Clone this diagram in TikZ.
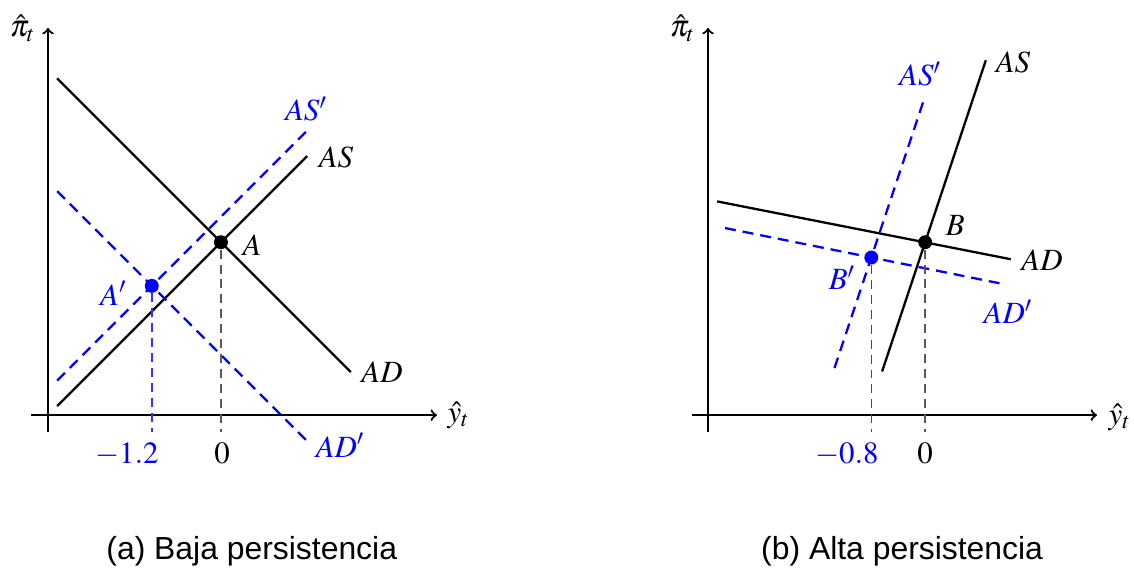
\documentclass[tikz,border=0pt]{standalone}
\usepackage{mathptmx}
\usepackage[no-math]{fontspec}
\newfontfamily\capfont{Liberation Sans}
\usepackage{xcolor}
\usepackage{tikz}

\begin{document}
\begin{tikzpicture}[
    axis/.style={->,line width=1.1pt},
    curve/.style={line width=1.15pt},
    shifted/.style={line width=1.15pt,blue,dash pattern=on 5.5pt off 3.5pt},
    guide/.style={line width=0.8pt,dash pattern=on 4.5pt off 3pt},
    dot/.style={circle,fill,inner sep=0pt,minimum size=7pt},
    lbl/.style={inner sep=1pt,font=\fontsize{15.5}{18}\selectfont},
    captext/.style={inner sep=0pt,font=\capfont\fontsize{16}{19}\selectfont}
  ]
  \useasboundingbox (0,0) rectangle (20,10.02);

  % (a) baja persistencia
  \begin{scope}[shift={(0.847,2.698)}]
    \draw[axis] (-0.3,0) -- (6.86,0);
    \draw[axis] (0,-0.3) -- (0,6.83);
    \node[lbl] (ya)  at (7.24,0)     {$\hat{y}_t$};
    \node[lbl] (pia) at (-0.45,6.83) {$\hat{\pi}_t$};

    \coordinate (adA0) at (0.16,5.94);
    \coordinate (adA1) at (5.34,0.76);
    \coordinate (asA0) at (0.16,0.16);
    \coordinate (asA1) at (4.57,4.57);
    \coordinate (asA2) at (0.16,0.61);
    \coordinate (asA3) at (4.57,5.02);
    \coordinate (adA2) at (0.16,3.95);
    \coordinate (adA3) at (4.59,-0.48);
    \coordinate (fA)  at (3.05,-0.3);
    \coordinate (fA1) at (1.83,-0.3);

    \draw[curve] (adA0) -- (adA1);
    \draw[curve] (asA0) -- (asA1);
    \draw[shifted] (asA2) -- (asA3);
    \draw[shifted] (adA2) -- (adA3);

    \node[dot] (A)  at (3.05,3.05) {};
    \node[dot,blue] (A1) at (1.83,2.28) {};
    \draw[guide,black!65] (A) -- (fA);
    \draw[guide,blue!80] (A1) -- (fA1);

    \node[lbl] (lA)  at (3.60,3.00) {$A$};
    \node[lbl,blue] (lA1) at (1.15,2.15) {$A'$};
    \node[lbl] (lasA) at (5.08,4.55) {$AS$};
    \node[lbl,blue] (lasA1) at (4.55,5.40) {$AS'$};
    \node[lbl] (ladA) at (5.89,0.76) {$AD$};
    \node[lbl,blue] (ladA1) at (5.15,-0.53) {$AD'$};
    \node[lbl,anchor=base] (tA)  at (3.07,-0.85) {$0$};
    \node[lbl,anchor=base,blue] (tA1) at (1.39,-0.85) {$-1.2$};
  \end{scope}

  % (b) alta persistencia
  \begin{scope}[shift={(12.487,2.698)}]
    \draw[axis] (-0.28,0) -- (6.86,0);
    \draw[axis] (0,-0.3) -- (0,6.83);
    \node[lbl] (yb)  at (7.26,-0.03) {$\hat{y}_t$};
    \node[lbl] (pib) at (-0.45,6.83) {$\hat{\pi}_t$};

    \coordinate (adB0) at (0.16,3.77);
    \coordinate (adB1) at (5.34,2.75);
    \coordinate (asB0) at (3.07,0.77);
    \coordinate (asB1) at (4.90,6.26);
    \coordinate (asB2) at (2.23,0.83);
    \coordinate (asB3) at (3.81,5.57);
    \coordinate (adB2) at (0.30,3.30);
    \coordinate (adB3) at (5.22,2.31);
    \coordinate (fB)  at (3.83,-0.3);
    \coordinate (fB1) at (2.88,-0.3);

    \draw[curve] (adB0) -- (adB1);
    \draw[curve] (asB0) -- (asB1);
    \draw[shifted] (asB2) -- (asB3);
    \draw[shifted] (adB2) -- (adB3);

    \node[dot] (B)  at (3.83,3.05) {};
    \node[dot,blue] (B1) at (2.88,2.78) {};
    \draw[guide,black!65] (B) -- (fB);
    \draw[guide,blue!80] (B1) -- (fB1);

    \node[lbl] (lB)  at (4.36,3.35) {$B$};
    \node[lbl,blue] (lB1) at (2.36,2.42) {$B'$};
    \node[lbl] (lasB) at (5.38,6.23) {$AS$};
    \node[lbl,blue] (lasB1) at (3.74,6.01) {$AS'$};
    \node[lbl] (ladB) at (5.89,2.73) {$AD$};
    \node[lbl,blue] (ladB1) at (5.29,1.82) {$AD'$};
    \node[lbl,anchor=base] (tB)  at (3.83,-0.85) {$0$};
    \node[lbl,anchor=base,blue] (tB1) at (2.45,-0.85) {$-0.8$};
  \end{scope}

  \node[captext,anchor=base] (capa) at (4.44,0.16)  {(a) Baja persistencia};
  \node[captext,anchor=base] (capb) at (15.91,0.16) {(b) Alta persistencia};
\end{tikzpicture}
\end{document}
